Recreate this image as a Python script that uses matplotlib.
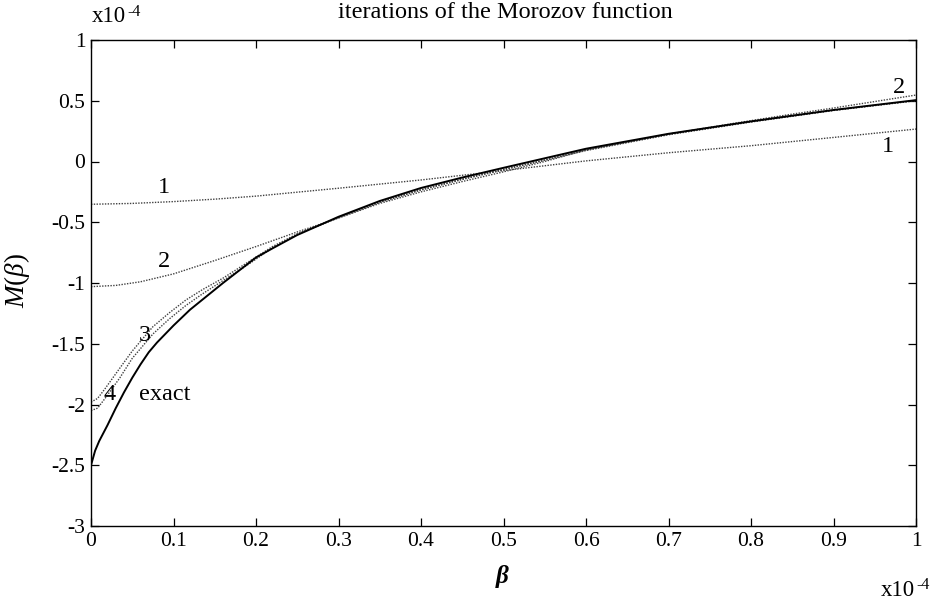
import matplotlib
matplotlib.use("Agg")
import matplotlib.pyplot as plt
from matplotlib.ticker import FixedLocator, FuncFormatter

plt.rcParams['font.family'] = ['Liberation Serif', 'DejaVu Serif']
plt.rcParams['axes.unicode_minus'] = False
plt.rcParams['mathtext.fontset'] = 'custom'
plt.rcParams['mathtext.rm'] = 'Liberation Serif'
plt.rcParams['mathtext.it'] = 'Liberation Serif:italic'
plt.rcParams['mathtext.bf'] = 'Liberation Serif:bold:italic'

# ---- data (beta in units of 1e-4, M in units of 1e-4) ----
beta_exact = [0, 0.005, 0.01, 0.02, 0.03, 0.04, 0.05, 0.06, 0.07, 0.08, 0.1, 0.12,
              0.14, 0.16, 0.18, 0.2, 0.22, 0.25, 0.3, 0.35, 0.4, 0.45, 0.5, 0.6,
              0.7, 0.8, 0.9, 1.0]
m_exact = [-2.5, -2.38, -2.30, -2.17, -2.03, -1.90, -1.78, -1.67, -1.57, -1.49, -1.35, -1.22,
           -1.11, -1.0, -0.895, -0.79, -0.715, -0.605, -0.455, -0.325, -0.218, -0.132, -0.052, 0.105,
           0.228, 0.33, 0.424, 0.505]

beta_1 = [0, 0.05, 0.1, 0.15, 0.2, 0.3, 0.4, 0.5, 0.6, 0.7, 0.8, 0.9, 1.0]
m_1 = [-0.352, -0.345, -0.33, -0.31, -0.285, -0.22, -0.152, -0.075, 0.005, 0.072, 0.13, 0.198, 0.267]

beta_2 = [0, 0.03, 0.06, 0.1, 0.15, 0.2, 0.25, 0.3, 0.35, 0.4, 0.45, 0.5, 0.55, 0.6,
          0.7, 0.78, 0.85, 0.9, 1.0]
m_2 = [-1.03, -1.02, -0.99, -0.925, -0.815, -0.70, -0.58, -0.465, -0.345, -0.25, -0.165, -0.085, 0.0, 0.095,
       0.225, 0.315, 0.39, 0.44, 0.547]

beta_34 = [0, 0.008, 0.017, 0.035, 0.05, 0.075, 0.095, 0.115, 0.135, 0.16, 0.19, 0.22, 0.25,
           0.3, 0.35, 0.4, 0.45, 0.5, 0.55, 0.6, 0.7, 0.8, 0.9, 1.0]
m_3 = [-1.98, -1.95, -1.87, -1.70, -1.56, -1.36, -1.245, -1.14, -1.055, -0.96, -0.83, -0.70, -0.595,
       -0.462, -0.335, -0.235, -0.148, -0.068, 0.01, 0.09, 0.22, 0.325, 0.42, 0.50]
m_4 = [-2.05, -2.03, -1.95, -1.78, -1.62, -1.42, -1.295, -1.185, -1.09, -0.98, -0.85, -0.71, -0.60,
       -0.462, -0.335, -0.232, -0.145, -0.065, 0.012, 0.095, 0.225, 0.328, 0.422, 0.503]

x_ticks = [0, 0.1, 0.2, 0.3, 0.4, 0.5, 0.6, 0.7, 0.8, 0.9, 1.0]
y_ticks = [-3, -2.5, -2, -1.5, -1, -0.5, 0, 0.5, 1]

# curve labels: (text, beta, M)
curve_labels = [("1", 0.0885, -0.21), ("2", 0.0885, -0.825), ("3", 0.065, -1.43),
                ("4", 0.023, -1.92), ("exact", 0.09, -1.92),
                ("2", 0.98, 0.61), ("1", 0.966, 0.12)]

W, H = 932, 610
fig = plt.figure(figsize=(W / 100, H / 100), dpi=100)
ax = fig.add_axes([91 / W, 1 - 526 / H, (916 - 91) / W, (526 - 40) / H])

dot = dict(color='#404040', linestyle=(0, (1, 1)), linewidth=1.0)
ax.plot(beta_1, m_1, **dot)
ax.plot(beta_2, m_2, **dot)
ax.plot(beta_34, m_3, **dot)
ax.plot(beta_34, m_4, **dot)
ax.plot(beta_exact, m_exact, color='black', linewidth=1.4)

ax.set_xlim(0, 1)
ax.set_ylim(-3, 1)
ax.xaxis.set_major_locator(FixedLocator(x_ticks))
ax.yaxis.set_major_locator(FixedLocator(y_ticks))
fmt = FuncFormatter(lambda v, p: '%g' % v)
ax.xaxis.set_major_formatter(fmt)
ax.yaxis.set_major_formatter(fmt)
ax.tick_params(direction='in', length=6, width=0.9, top=True, right=True,
               labelsize=15.5, pad=4)
for s in ax.spines.values():
    s.set_linewidth(1.0)

for t, bx, my in curve_labels:
    ax.text(bx, my, t, fontsize=17.5, ha='center', va='center')

fig.text(505 / W, 1 - 12 / H, "iterations of the Morozov function", fontsize=17.5,
         ha='center', va='center')
# multiplier labels
fig.text(92 / W, 1 - 17 / H, "x10", fontsize=16.5, ha='left', va='center')
fig.text(127 / W, 1 - 12 / H, "-4", fontsize=11.5, ha='left', va='center')
fig.text(881 / W, 1 - 590 / H, "x10", fontsize=16.5, ha='left', va='center')
fig.text(916 / W, 1 - 585 / H, "-4", fontsize=11.5, ha='left', va='center')

fig.text(17 / W, 1 - 280 / H, r"$\mathit{M}(\mathit{\beta})$", fontsize=19.5,
         rotation=90, ha='center', va='center')
fig.text(503 / W, 1 - 577 / H, r"$\mathbf{\beta}$", fontsize=18,
         ha='center', va='center')

fig.savefig("out.png", dpi=100)
